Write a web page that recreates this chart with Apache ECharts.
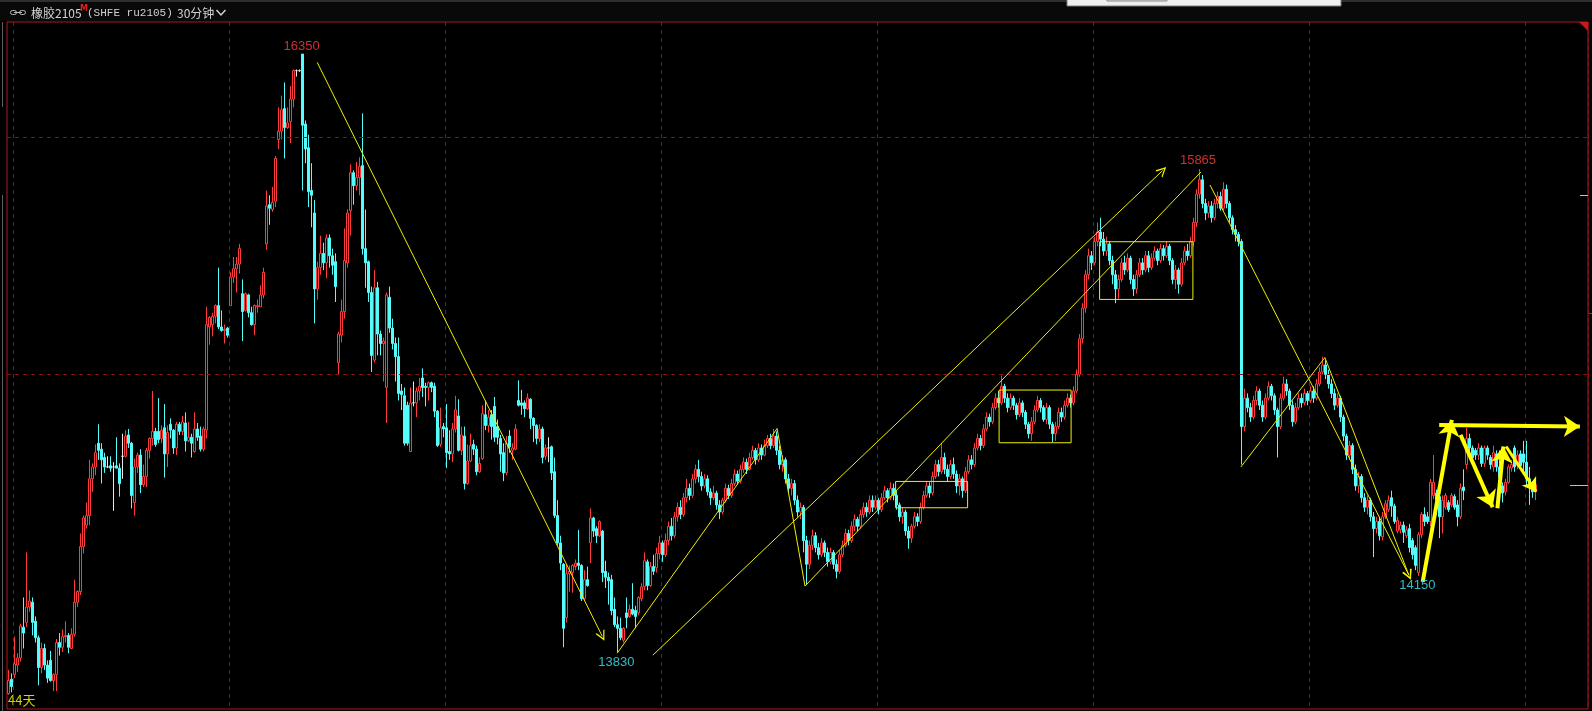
<!DOCTYPE html>
<html><head><meta charset="utf-8">
<script src="https://cdn.jsdelivr.net/npm/echarts@6/dist/echarts.min.js"></script>
<style>html,body{margin:0;padding:0;background:#000;overflow:hidden}#c{width:1592px;height:711px}</style>
</head><body><div id="c"></div>
<script>
// ---- data: 30-minute bars, [open, close, low, high] kept as separate arrays ----
const opens=[13655,13715,13735,13775,13805,13935,13955,14020,14040,13960,13890,13765,13845,13775,13795,13710,13735,13870,13850,13895,13900,13845,13905,14040,14085,14275,14365,14405,14560,14610,14710,14685,14650,14610,14615,14610,14615,14605,14655,14655,14745,14710,14460,14610,14660,14535,14570,14680,14730,14760,14760,14730,14775,14665,14790,14765,14690,14790,14760,14795,14720,14735,14675,14770,14740,14685,14765,15200,15210,15245,15290,15200,15185,15195,15290,15410,15445,15465,15340,15270,15335,15260,15210,15285,15285,15335,15550,15715,15695,15730,15990,16025,16120,16040,16065,16160,16280,16280,16350,16055,15955,15775,15680,15360,15450,15510,15470,15575,15500,15475,15050,15165,15265,15470,15690,15850,15795,15830,15880,15530,15475,15345,15060,15365,15170,15130,14945,15325,15195,15130,15075,14930,14910,14870,14675,14880,14880,14930,14985,14950,14945,14965,14950,14845,14705,14780,14775,14675,14665,14770,14825,14680,14740,14540,14635,14705,14685,14590,14645,14830,14785,14830,14865,14780,14730,14670,14585,14740,14680,14685,14890,14880,14880,14855,14895,14815,14785,14730,14770,14655,14690,14695,14590,14405,14290,14200,13975,14160,14165,14190,14205,14195,14055,14135,14290,14395,14350,14320,14340,14170,14145,14135,14010,13945,13930,13880,13995,13980,14010,14005,13995,14055,14105,14210,14110,14190,14185,
14245,14290,14240,14300,14360,14320,14400,14440,14410,14480,
14520,14490,14560,14600,14570,14530,14560,14505,14480,14500,
14450,14420,14470,14520,14490,14540,14580,14550,14600,14630,
14600,14650,14680,14640,14690,14660,14700,14730,14700,14740,
14680,14620,14640,14560,14520,14540,14470,14420,14440,14300,
14200,14280,14320,14270,14240,14290,14250,14210,14250,14200,
14170,14240,14280,14330,14300,14360,14390,14360,14410,14440,
14420,14470,14440,14470,14430,14480,14510,14480,14520,14490,
14450,14400,14420,14340,14310,14360,14400,14380,14440,14490,
14530,14500,14570,14620,14590,14650,14600,14570,14620,14580,
14530,14560,14510,14590,14640,14620,14690,14730,14700,14770,
14820,14800,14860,14900,14880,14950,14900,14860,14900,14870,
14830,14880,14840,14790,14750,14800,14850,14890,14860,14810,
14860,14790,14750,14780,14840,14820,14870,14900,14880,14930,
15000,15150,15280,15420,15500,15470,15560,15600,15570,15520,
15550,15480,15420,15360,15400,15470,15440,15490,15400,15360,
15420,15470,15440,15500,15450,15490,15520,15480,15530,15500,
15540,15480,15400,15440,15380,15470,15520,15500,15560,15640,
15760,15820,15720,15680,15710,15660,15720,15750,15700,15780,
15720,15660,15610,15590,15560,14780,14900,14860,14820,14890,
14930,14870,14820,14900,14950,14910,14850,14780,14900,14960,
14930,14870,14800,14860,14900,14880,14920,14890,14930,14900,
14960,15010,15040,15000,14960,14920,14870,14900,14820,14740,
14660,14700,14600,14530,14570,14480,14440,14470,14400,14350,
14380,14315,14400,14430,14480,14445,14340,14345,14365,14320,
14350,14300,14270,14165,14325,14410,14400,14380,14490,14500,
14485,14400,14440,14460,14450,14485,14450,14400,14525,14620,
14730,14690,14680,14660,14690,14625,14690,14650,14610,14665,
14610,14530,14505,14545,14605,14690,14615,14665,14665,14630,
14560,14540,14505];
const closes=[13710,13685,13780,13805,13940,13910,14020,14045,13955,13890,13765,13845,13775,13720,13710,13735,13870,13850,13895,13900,13850,13905,14040,14085,14275,14395,14405,14560,14610,14670,14680,14640,14610,14610,14605,14610,14605,14540,14655,14740,14710,14490,14610,14660,14535,14570,14680,14730,14760,14705,14725,14765,14665,14755,14765,14690,14790,14760,14800,14720,14735,14710,14770,14735,14685,14770,15210,15240,15245,15290,15200,15185,15190,15165,15410,15445,15465,15530,15265,15340,15260,15210,15290,15290,15335,15430,15710,15700,15725,15910,16025,16115,16040,16060,16160,16280,16280,16280,16050,15950,15770,15755,15360,15450,15510,15470,15575,15500,15460,15370,15170,15265,15480,15680,15850,15795,15830,15875,15530,15470,15345,15080,15365,15170,15130,15140,15335,15195,15130,15075,14920,14915,14710,14710,14880,14880,14930,14950,14945,14945,14965,14945,14845,14700,14775,14770,14670,14665,14770,14850,14680,14745,14540,14635,14700,14685,14590,14625,14835,14785,14820,14780,14735,14735,14665,14585,14710,14695,14690,14770,14870,14870,14855,14900,14815,14785,14730,14770,14650,14690,14690,14585,14405,14290,14205,13930,14160,14170,14195,14205,14195,14055,14135,14110,14395,14340,14320,14380,14165,14145,14130,14005,13945,13930,13890,13930,13975,14010,13990,13980,14060,14105,14215,14110,14190,14170,14245,
14290,14240,14300,14360,14320,14400,14440,14410,14480,14520,
14490,14560,14600,14570,14530,14560,14505,14480,14500,14450,
14420,14470,14520,14490,14540,14580,14550,14600,14630,14600,
14650,14680,14640,14690,14660,14700,14730,14700,14740,14680,
14620,14640,14560,14520,14540,14470,14420,14440,14300,14200,
14280,14320,14270,14240,14290,14250,14210,14250,14200,14170,
14240,14280,14330,14300,14360,14390,14360,14410,14440,14420,
14470,14440,14470,14430,14480,14510,14480,14520,14490,14450,
14400,14420,14340,14310,14360,14400,14380,14440,14490,14530,
14500,14570,14620,14590,14650,14600,14570,14620,14580,14530,
14560,14510,14590,14640,14620,14690,14730,14700,14770,14820,
14800,14860,14900,14880,14950,14900,14860,14900,14870,14830,
14880,14840,14790,14750,14800,14850,14890,14860,14810,14860,
14790,14750,14780,14840,14820,14870,14900,14880,14930,15000,
15150,15280,15420,15500,15470,15560,15600,15570,15520,15550,
15480,15420,15360,15400,15470,15440,15490,15400,15360,15420,
15470,15440,15500,15450,15490,15520,15480,15530,15500,15540,
15480,15400,15440,15380,15470,15520,15500,15560,15640,15760,
15820,15720,15680,15710,15660,15720,15750,15700,15780,15720,
15660,15610,15590,15560,14780,14900,14860,14820,14890,14930,
14870,14820,14900,14950,14910,14850,14780,14900,14960,14930,
14870,14800,14860,14900,14880,14920,14890,14930,14900,14960,
15010,15040,15000,14960,14920,14870,14900,14820,14740,14660,
14700,14600,14530,14570,14480,14440,14470,14400,14350,14380,
14320,14400,14455,14470,14445,14380,14385,14365,14335,14345,
14270,14240,14195,14325,14410,14380,14380,14545,14545,14470,
14400,14470,14490,14430,14490,14440,14400,14520,14510,14730,
14690,14650,14660,14690,14625,14690,14660,14620,14670,14610,
14565,14500,14545,14610,14620,14610,14660,14615,14630,14560,
14525,14505,14535];
const lows=[13650,13660,13720,13745,13790,13845,13935,14000,13900,13870,13690,13740,13755,13700,13705,13665,13665,13815,13830,13870,13825,13845,13895,14020,14070,14245,14350,14365,14505,14575,14640,14540,14585,14605,14590,14425,14605,14485,14560,14650,14690,14435,14405,14585,14500,14525,14525,14645,14700,14695,14710,14710,14565,14610,14730,14665,14660,14745,14745,14675,14715,14650,14670,14720,14675,14675,14730,15125,15160,15215,15190,15180,15130,15155,15290,15385,15345,15425,15140,15265,15240,15205,15165,15260,15285,15320,15525,15630,15685,15705,15950,15990,15910,16035,15975,16125,16255,16275,15775,15890,15705,15620,15215,15315,15420,15440,15405,15450,15420,15305,15000,15135,15235,15450,15585,15715,15775,15755,15505,15365,15305,15010,15050,15080,15080,14970,14795,15175,15105,14970,14890,14850,14700,14700,14675,14865,14820,14890,14905,14865,14890,14925,14820,14695,14695,14735,14605,14640,14630,14755,14675,14660,14515,14535,14630,14660,14575,14585,14640,14765,14755,14725,14715,14705,14590,14550,14575,14670,14640,14680,14865,14830,14820,14850,14770,14715,14705,14715,14625,14640,14630,14555,14395,14280,14175,13850,13955,14085,14080,14175,14175,14045,14050,14105,14205,14315,14290,14315,14125,14100,14030,13985,13935,13830,13880,13870,13930,13975,13985,13930,13985,14045,14090,14090,14105,14155,14165,
14220,14210,14230,14280,14300,14310,14380,14390,14400,14460,
14470,14480,14540,14545,14510,14520,14490,14450,14470,14430,
14390,14410,14460,14475,14480,14530,14535,14540,14585,14580,
14595,14640,14620,14630,14640,14655,14690,14685,14690,14660,
14600,14590,14540,14500,14490,14450,14400,14390,14250,14115,
14180,14260,14250,14220,14230,14230,14190,14200,14180,14140,
14160,14230,14270,14280,14290,14340,14340,14350,14395,14400,
14410,14420,14430,14410,14420,14470,14460,14470,14470,14430,
14380,14370,14320,14265,14290,14350,14360,14370,14430,14480,
14480,14490,14560,14570,14580,14580,14550,14560,14560,14500,
14490,14480,14500,14580,14600,14610,14680,14680,14690,14760,
14780,14790,14850,14860,14870,14880,14840,14850,14850,14810,
14820,14820,14770,14730,14720,14790,14840,14840,14800,14790,
14770,14715,14720,14770,14800,14810,14860,14860,14870,14920,
14990,15130,15260,15400,15440,15460,15540,15540,15500,15500,
15460,15380,15300,15320,15390,15420,15430,15380,15330,15340,
15410,15420,15430,15430,15440,15480,15460,15470,15480,15490,
15460,15380,15360,15340,15370,15460,15480,15490,15540,15620,
15740,15700,15650,15660,15640,15650,15700,15690,15690,15700,
15640,15590,15560,15540,14620,14760,14840,14800,14810,14870,
14850,14800,14810,14890,14890,14830,14650,14770,14890,14910,
14850,14780,14790,14850,14860,14870,14870,14880,14880,14890,
14950,15000,14980,14940,14900,14850,14860,14800,14720,14640,
14640,14580,14510,14500,14460,14420,14410,14380,14230,14330,
14300,14300,14390,14420,14400,14370,14330,14330,14290,14310,
14250,14220,14175,14150,14310,14360,14370,14360,14475,14460,
14310,14330,14430,14420,14440,14430,14360,14390,14470,14600,
14670,14630,14640,14640,14610,14610,14640,14600,14590,14590,
14470,14460,14490,14540,14590,14590,14600,14600,14580,14530,
14450,14480,14470];
const highs=[13755,13740,13895,13825,13950,14060,14250,14090,14060,13980,13900,13870,13865,13795,13835,13740,13885,13910,13925,13960,13910,13930,14135,14090,14330,14405,14460,14640,14625,14705,14790,14710,14670,14655,14655,14630,14735,14625,14750,14765,14770,14715,14645,14670,14685,14620,14690,14735,14930,14775,14900,14785,14875,14785,14815,14770,14800,14800,14825,14840,14800,14750,14840,14795,14780,14780,15285,15245,15260,15295,15450,15270,15210,15200,15430,15495,15495,15550,15400,15345,15340,15285,15295,15315,15375,15450,15775,15755,15790,15920,16125,16175,16230,16125,16215,16285,16285,16285,16350,16070,16010,15890,15735,15475,15585,15555,15590,15590,15530,15510,15180,15315,15615,15695,15885,15860,15895,15915,16100,15695,15480,15370,15440,15390,15185,15155,15345,15370,15235,15155,15155,14960,14945,14885,14945,14970,14945,14985,15025,14965,14970,14970,14965,14850,14860,14795,14875,14765,14795,14910,14895,14780,14780,14705,14750,14725,14700,14650,14870,14890,14850,14850,14905,14810,14745,14710,14740,14765,14710,14790,14975,14935,14890,14920,14900,14820,14790,14790,14780,14705,14735,14700,14650,14470,14320,14205,14200,14195,14200,14220,14345,14200,14175,14190,14435,14400,14360,14385,14345,14215,14165,14155,14060,13980,13975,13935,14060,14030,14120,14025,14065,14120,14250,14220,14210,14240,14270,
14320,14300,14330,14380,14395,14420,14460,14470,14500,14560,
14540,14580,14620,14640,14590,14580,14575,14520,14530,14510,
14470,14480,14540,14535,14560,14600,14595,14620,14650,14645,
14670,14700,14690,14710,14705,14725,14745,14750,14770,14760,
14700,14660,14650,14580,14560,14555,14490,14460,14450,14320,
14300,14345,14335,14290,14310,14300,14270,14270,14260,14220,
14260,14300,14350,14345,14380,14410,14400,14430,14460,14460,
14490,14490,14490,14480,14500,14530,14520,14545,14540,14510,
14460,14440,14430,14360,14370,14420,14415,14460,14510,14550,
14545,14590,14640,14640,14710,14670,14620,14640,14650,14595,
14580,14570,14610,14660,14660,14710,14750,14745,14790,14840,
14835,14880,14920,14930,14995,14960,14920,14920,14910,14880,
14900,14890,14850,14800,14820,14870,14910,14900,14870,14880,
14870,14800,14800,14860,14860,14890,14920,14915,14950,15020,
15170,15300,15440,15530,15520,15580,15640,15660,15600,15580,
15560,15500,15440,15420,15490,15500,15510,15500,15420,15440,
15490,15490,15520,15520,15510,15540,15530,15550,15545,15560,
15550,15490,15460,15450,15490,15540,15550,15580,15660,15780,
15865,15840,15740,15730,15730,15740,15770,15770,15810,15800,
15730,15670,15630,15600,15570,14940,14920,14880,14910,14950,
14940,14890,14920,14970,14960,14920,14860,14920,14990,14980,
14940,14890,14880,14920,14920,14940,14930,14950,14950,14980,
15030,15075,15060,15020,14980,14940,14920,14910,14830,14750,
14720,14710,14620,14590,14580,14500,14490,14480,14420,14400,
14400,14420,14470,14490,14510,14455,14400,14380,14380,14360,
14370,14310,14280,14335,14420,14440,14420,14560,14660,14515,
14495,14490,14500,14470,14500,14495,14470,14540,14600,14775,
14750,14700,14690,14710,14700,14700,14700,14660,14700,14680,
14680,14545,14560,14620,14640,14700,14680,14680,14720,14720,
14610,14550,14550];

// horizontal dashed price grid lines
const gridPrices=[16000,15000];
// price labels: text, bar position, price position, colour
const labelTexts=['16350','13830','15865','14150'];
const labelBars=[97.7,202.6,396.5,469.6];
const labelPrices=[16381,13786,15902,14109];
const labelColors=['#ff3c3c','#40e8f0','#ff3c3c','#40e8f0'];
// hand-drawn yellow annotations, as [bar, price] end points
const thinSegments=[[[202.9,13825],[256.2,14772]],[[256.2,14772],[265.5,14108]],[[265.5,14108],[397.5,15853]],[[410.8,14610],[438.8,15071]]];
const thinArrows=[[[102.9,16315],[197.9,13897]],[[214.8,13817],[384.7,15859]],[[400.5,15798],[466.8,14154]],[[438.8,15071],[466.8,14154]]];
const thickArrows=[[[471.4,14126],[481.1,14808]],[[476.9,14787],[523.8,14780]],[[484,14745],[494.7,14440]],[[496.3,14436],[498.3,14696]]];
const mediumArrows=[[[499.2,14696],[509.2,14506]]];
const boxes=[[[295.7,14549],[319.7,14438]],[[330.2,14934],[354.2,14712]],[[363.7,15559],[394.8,15316]]];

const SLOTS=527;
const categories=Array.from({length:SLOTS},(_,i)=>String(i));
const nBars=Math.min(opens.length,closes.length,lows.length,highs.length);
const candles=opens.slice(0,nBars).map((o,i)=>[o,closes[i],lows[i],highs[i]]);
const chevron='path://M0,10L5,0L10,10L8.6,10L5,2.8L1.4,10Z';
const GRIDRED='#8e1212';

const chart=echarts.init(document.getElementById('c'),null,{renderer:'canvas',width:1592,height:711});
const font12='12px "Noto Sans CJK SC","Noto Sans",sans-serif';
chart.setOption({
  backgroundColor:'#000',
  animation:false,
  grid:{left:7,right:4,top:22,bottom:2,show:true,borderColor:'#b41616',borderWidth:1,backgroundColor:'#000'},
  xAxis:[
    {type:'category',data:categories,boundaryGap:true,axisLine:{show:false},axisTick:{show:false},axisLabel:{show:false},
     splitLine:{show:true,interval:(idx)=>idx>=2&&(idx-2)%72===0,lineStyle:{color:GRIDRED,type:[4,4],width:1}}},
    {type:'value',min:-0.5,max:SLOTS-0.5,show:false}
  ],
  yAxis:{type:'value',min:13590,max:16485,show:false},
  series:[
    {type:'candlestick',xAxisIndex:0,yAxisIndex:0,data:candles,barWidth:2,large:false,
     itemStyle:{color:'#000000',color0:'#54fcfc',borderColor:'#ff3c3c',borderColor0:'#54fcfc',borderColorDoji:'#e8e8e8',borderWidth:1},
     markLine:{silent:true,symbol:'none',label:{show:false},lineStyle:{color:GRIDRED,type:[4,4],width:1},data:gridPrices.map(p=>({yAxis:p}))}},
    {type:'lines',coordinateSystem:'cartesian2d',xAxisIndex:1,yAxisIndex:0,silent:true,symbol:'none',
     lineStyle:{color:'#f0f000',width:1,opacity:1},data:thinSegments.map(s=>({coords:s})),z:5},
    {type:'lines',coordinateSystem:'cartesian2d',xAxisIndex:1,yAxisIndex:0,silent:true,symbol:['none',chevron],symbolSize:[8,10],
     lineStyle:{color:'#f0f000',width:1,opacity:1},data:thinArrows.map(s=>({coords:s})),z:5},
    {type:'lines',coordinateSystem:'cartesian2d',xAxisIndex:1,yAxisIndex:0,silent:true,symbol:['none','arrow'],symbolSize:[12,16],
     lineStyle:{color:'#ffff00',width:4,opacity:1},data:thickArrows.map(s=>({coords:s})),z:6},
    {type:'lines',coordinateSystem:'cartesian2d',xAxisIndex:1,yAxisIndex:0,silent:true,symbol:['none','arrow'],symbolSize:[9,13],
     lineStyle:{color:'#ffff00',width:3,opacity:1},data:mediumArrows.map(s=>({coords:s})),z:6},
    {type:'lines',coordinateSystem:'cartesian2d',xAxisIndex:1,yAxisIndex:0,silent:true,polyline:true,symbol:'none',
     lineStyle:{color:'#f0f000',width:1,opacity:1},
     data:boxes.map(([[x1,y1],[x2,y2]])=>({coords:[[x1,y1],[x2,y1],[x2,y2],[x1,y2],[x1,y1]]})),z:5},
    {type:'scatter',xAxisIndex:1,yAxisIndex:0,silent:true,symbol:'circle',symbolSize:2,itemStyle:{color:'rgba(0,0,0,0)'},
     data:labelTexts.map((t,i)=>({value:[labelBars[i],labelPrices[i]],name:t,
       label:{show:true,position:'inside',formatter:t,color:labelColors[i],fontSize:13,fontFamily:'"Liberation Sans Narrow","Liberation Sans",sans-serif'}})),z:7}
  ],
  graphic:[
    {type:'rect',silent:true,shape:{x:0,y:0,width:1592,height:21},style:{fill:'#090909'}},
    {type:'rect',silent:true,shape:{x:0,y:0,width:1592,height:2},style:{fill:'#2c2f34'}},
    {type:'rect',silent:true,shape:{x:1067,y:-1,width:274,height:7},style:{fill:'#efefef',stroke:'#7c7c7c',lineWidth:1}},
    {type:'rect',silent:true,shape:{x:1107,y:-2,width:60,height:3},style:{fill:'#d8d8d8',stroke:'#8a8a8a',lineWidth:1}},
    {type:'rect',silent:true,shape:{x:10.5,y:10.5,width:6,height:4,r:2},style:{fill:'none',stroke:'#b8b8b8',lineWidth:1}},
    {type:'rect',silent:true,shape:{x:19.5,y:10.5,width:6,height:4,r:2},style:{fill:'none',stroke:'#b8b8b8',lineWidth:1}},
    {type:'line',silent:true,shape:{x1:14,y1:12.5,x2:22,y2:12.5},style:{stroke:'#b8b8b8',lineWidth:1}},
    {type:'text',silent:true,x:31,y:13,style:{text:'橡胶2105',fill:'#d2d2d2',font:font12,verticalAlign:'middle'}},
    {type:'text',silent:true,x:80,y:9,style:{text:'M',fill:'#e02020',font:'bold 8px "DejaVu Sans"',verticalAlign:'middle'}},
    {type:'text',silent:true,x:87,y:13,style:{text:'(SHFE ru2105)',fill:'#d2d2d2',font:'11px "Liberation Mono","DejaVu Sans Mono",monospace',verticalAlign:'middle'}},
    {type:'text',silent:true,x:177,y:13,style:{text:'30分钟',fill:'#d2d2d2',font:font12,verticalAlign:'middle'}},
    {type:'polyline',silent:true,shape:{points:[[216.5,10],[221,15],[225.5,10]]},style:{fill:'none',stroke:'#d2d2d2',lineWidth:1.5}},
    {type:'line',silent:true,shape:{x1:2.5,y1:22,x2:2.5,y2:107},style:{stroke:'#5a5a5a',lineWidth:1}},
    {type:'line',silent:true,shape:{x1:2.5,y1:195,x2:2.5,y2:711},style:{stroke:'#5a5a5a',lineWidth:1}},
    {type:'polygon',silent:true,shape:{points:[[1579,22],[1588,22],[1588,31]]},style:{fill:'#c81818'}},
    {type:'line',silent:true,shape:{x1:1580,y1:195.5,x2:1588,y2:195.5},style:{stroke:'#d8d800',lineWidth:1}},
    {type:'line',silent:true,shape:{x1:1588,y1:313.5,x2:1592,y2:313.5},style:{stroke:'#c81818',lineWidth:1}},
    {type:'line',silent:true,shape:{x1:1570,y1:485.5,x2:1588,y2:485.5},style:{stroke:'#d8d800',lineWidth:1}},
    {type:'text',silent:true,x:8,y:700,style:{text:'44天',fill:'#d6d600',font:'13px "Noto Sans CJK SC"',verticalAlign:'middle'}}
  ]
});
</script></body></html>
